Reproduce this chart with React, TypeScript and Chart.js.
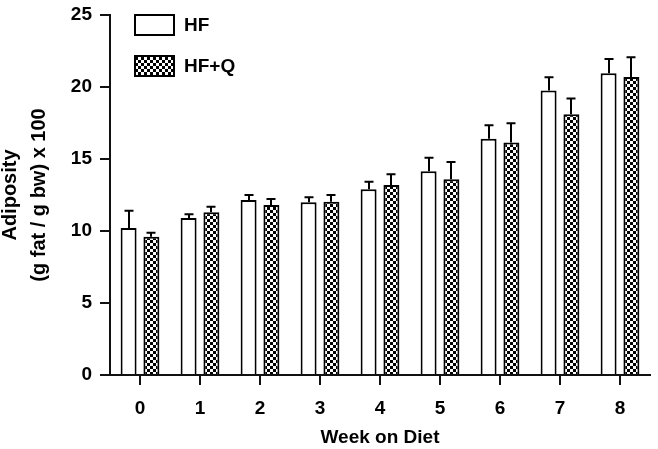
import React, { useEffect, useRef } from "react";
import { Chart, registerables } from "chart.js";

Chart.register(...registerables);

const weeks = ["0", "1", "2", "3", "4", "5", "6", "7", "8"];
const hfValues = [10.2, 10.9, 12.15, 12.0, 12.9, 14.15, 16.4, 19.75, 20.95];
const hfErrors = [1.2, 0.27, 0.35, 0.35, 0.52, 0.94, 0.95, 0.93, 0.99];
const hfqValues = [9.6, 11.3, 11.8, 12.03, 13.19, 13.6, 16.15, 18.1, 20.7];
const hfqErrors = [0.28, 0.39, 0.42, 0.47, 0.75, 1.19, 1.33, 1.1, 1.36];
const seriesNames = ["HF", "HF+Q"];
const yTitle = ["Adiposity", "(g fat / g bw) x 100"];
const xTitle = "Week on Diet";

const FONT = "'Liberation Sans', Arial, Helvetica, sans-serif";

function makePattern(): CanvasPattern | string {
  const c = document.createElement("canvas");
  c.width = 6;
  c.height = 6;
  const g = c.getContext("2d");
  if (!g) return "#000";
  g.fillStyle = "#fff";
  g.fillRect(0, 0, 6, 6);
  g.fillStyle = "#000";
  g.fillRect(0, 0, 3, 3);
  g.fillRect(3, 3, 3, 3);
  const p = g.createPattern(c, "repeat");
  return p || "#000";
}

export default function App() {
  const ref = useRef<HTMLCanvasElement | null>(null);

  useEffect(() => {
    if (!ref.current) return;
    const pattern = makePattern();
    const errors = [hfErrors, hfqErrors];

    const errorBars = {
      id: "errorBars",
      afterDatasetsDraw(chart: any) {
        const ctx = chart.ctx;
        const yScale = chart.scales.y;
        ctx.save();
        ctx.strokeStyle = "#000";
        ctx.lineWidth = 2;
        chart.data.datasets.forEach((ds: any, i: number) => {
          const meta = chart.getDatasetMeta(i);
          meta.data.forEach((el: any, j: number) => {
            const v = ds.data[j];
            const top = yScale.getPixelForValue(v + errors[i][j]);
            const x = Math.round(el.x);
            ctx.beginPath();
            ctx.moveTo(x, el.y);
            ctx.lineTo(x, top);
            ctx.moveTo(x - 4.5, top);
            ctx.lineTo(x + 4.5, top);
            ctx.stroke();
          });
        });
        ctx.restore();
      },
    };

    const legendPlugin = {
      id: "customLegend",
      afterDraw(chart: any) {
        const ctx = chart.ctx;
        ctx.save();
        const fills = ["#fff", pattern];
        const boxX = 135;
        const boxYs = [15, 56];
        for (let i = 0; i < 2; i++) {
          ctx.fillStyle = fills[i];
          ctx.fillRect(boxX, boxYs[i], 39, 20);
          ctx.strokeStyle = "#000";
          ctx.lineWidth = 2;
          ctx.strokeRect(boxX, boxYs[i], 39, 20);
          ctx.fillStyle = "#000";
          ctx.font = `bold 19px ${FONT}`;
          ctx.textBaseline = "middle";
          ctx.textAlign = "left";
          ctx.fillText(seriesNames[i], 184, boxYs[i] + 10.5);
        }
        ctx.restore();
      },
    };

    const chart = new Chart(ref.current, {
      type: "bar",
      data: {
        labels: weeks,
        datasets: [
          {
            label: seriesNames[0],
            data: hfValues,
            backgroundColor: "#fff",
            borderColor: "#000",
            borderWidth: 2,
            categoryPercentage: 0.76,
            barPercentage: 0.7,
          },
          {
            label: seriesNames[1],
            data: hfqValues,
            backgroundColor: pattern as any,
            borderColor: "#000",
            borderWidth: 2,
            categoryPercentage: 0.76,
            barPercentage: 0.7,
          },
        ],
      },
      options: {
        animation: false,
        responsive: true,
        maintainAspectRatio: false,
        layout: { padding: { top: 15, right: 8, left: 0, bottom: 0 } },
        plugins: {
          legend: { display: false },
          tooltip: { enabled: false },
        },
        scales: {
          x: {
            offset: true,
            afterFit(scale: any) {
              scale.height = 74;
            },
            grid: {
              display: true,
              drawOnChartArea: false,
              drawTicks: true,
              offset: false,
              tickLength: 10,
              color: "#111",
              lineWidth: 2,
            },
            border: { display: true, color: "#111", width: 2 },
            ticks: {
              color: "#000",
              padding: 12,
              font: { family: FONT, size: 19, weight: "bold" },
            },
            title: {
              display: true,
              text: xTitle,
              color: "#000",
              padding: { top: 0, bottom: 0 },
              font: { family: FONT, size: 19, weight: "bold" },
            },
          },
          y: {
            min: 0,
            max: 25,
            afterFit(scale: any) {
              scale.width = 110;
              scale.paddingTop = 0;
              scale.paddingBottom = 0;
            },
            grid: {
              display: true,
              drawOnChartArea: false,
              drawTicks: true,
              tickLength: 10,
              color: "#111",
              lineWidth: 2,
            },
            border: { display: true, color: "#111", width: 2 },
            ticks: {
              stepSize: 5,
              color: "#000",
              padding: 8,
              font: { family: FONT, size: 19, weight: "bold" },
            },
            title: {
              display: true,
              text: yTitle,
              color: "#000",
              padding: { top: -4, bottom: 0 },
              font: { family: FONT, size: 20, weight: "bold", lineHeight: 1.45 },
            },
          },
        },
      },
      plugins: [errorBars, legendPlugin],
    });

    return () => chart.destroy();
  }, []);

  return (
    <div
      style={{
        position: "absolute",
        left: 0,
        top: 0,
        width: 658,
        height: 449,
        background: "#fff",
      }}
    >
      <canvas ref={ref} />
    </div>
  );
}
